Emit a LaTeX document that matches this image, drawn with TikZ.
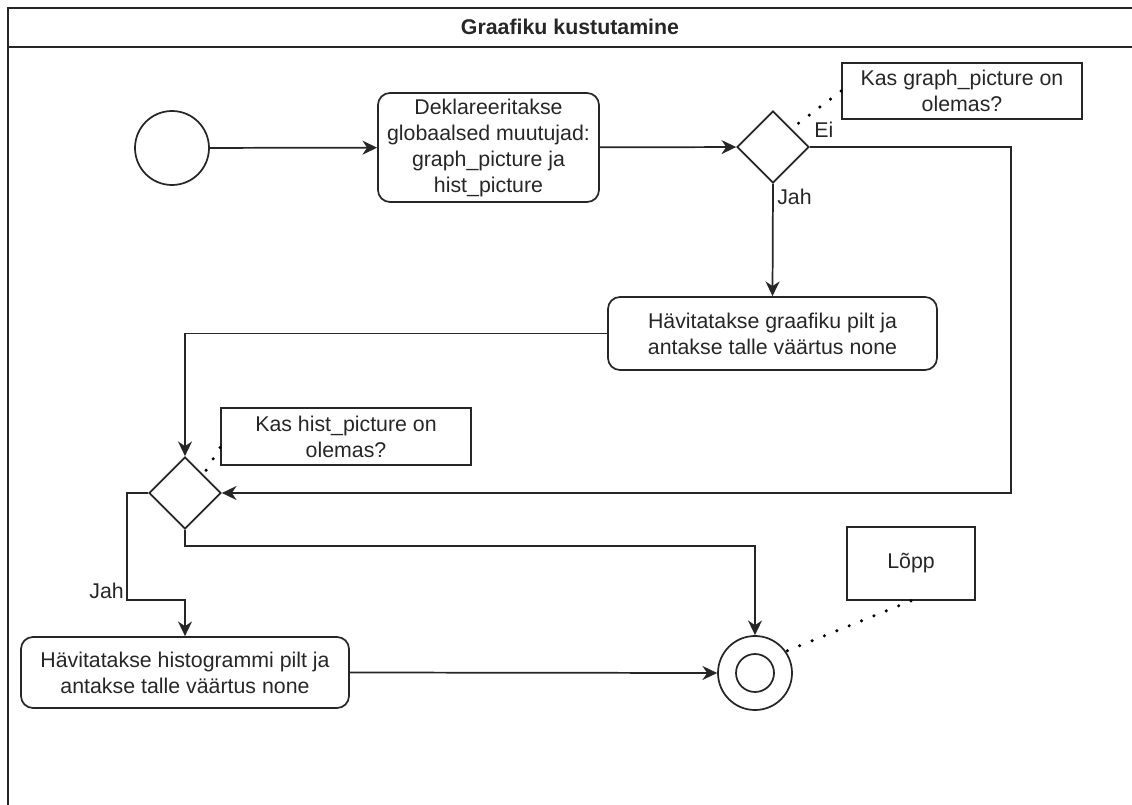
\documentclass[tikz,border=0pt]{standalone}
\usepackage{fontspec}
\setmainfont{Liberation Sans}
\usetikzlibrary{shapes.geometric,arrows.meta}

\begin{document}
\begin{tikzpicture}[x=0.75pt,y=-0.75pt,
  every node/.style={font=\fontsize{16}{19.5}\selectfont, text=black!85},
  line/.style={draw=black!85, line width=1.3pt},
  flow/.style={line, -{Stealth[length=11pt,width=10.5pt,inset=3.5pt]}},
  action/.style={line, rectangle, rounded corners=9pt, align=center, inner sep=2pt},
  note/.style={line, rectangle, align=center, inner sep=2pt},
  decision/.style={line, diamond, aspect=1, minimum width=54pt, minimum height=54pt, inner sep=0pt},
  initial/.style={line, circle, minimum size=55.5pt, inner sep=0pt},
  final/.style={line, circle, minimum size=55.5pt, inner sep=0pt},
  link/.style={draw=black, line width=2.6pt, line cap=round, dash pattern=on 0pt off 10pt},
  guard/.style={inner sep=0pt}
]
\useasboundingbox (0,0) rectangle (1132,805);

% swimlane frame with its title bar
\draw[line] (1132,8) -- (8,8) -- (8,805);
\draw[line] (8,47) -- (1132,47);
\node[font=\fontsize{16}{19.5}\selectfont\bfseries] (title) at (570,27) {Graafiku kustutamine};

% activity nodes
\node[initial] (start) at (172,148) {};
\node[action, minimum width=165.75pt, minimum height=81.75pt] (decl) at (488.5,147.5)
  {Deklareeritakse\\globaalsed muutujad:\\graph\_picture ja\\hist\_picture};
\node[decision] (d1) at (773,147) {};
\node[note, minimum width=180pt, minimum height=42pt] (note1) at (962,91)
  {Kas graph\_picture on\\olemas?};
\node[action, minimum width=246.75pt, minimum height=54.75pt] (graph) at (772.5,333.5)
  {Hävitatakse graafiku pilt ja\\antakse talle väärtus none};
\node[decision] (d2) at (185,493) {};
\node[note, minimum width=187.5pt, minimum height=42.75pt] (note2) at (346,436.5)
  {Kas hist\_picture on\\olemas?};
\node[action, minimum width=246pt, minimum height=53.25pt] (hist) at (185,672.5)
  {Hävitatakse histogrammi pilt ja\\antakse talle väärtus none};
\node[final] (end) at (755,673) {};
\node[line, circle, minimum size=28.5pt, inner sep=0pt] (endcore) at (end.center) {};
\node[note, minimum width=96pt, minimum height=54.75pt] (lopp) at (911,563.5) {Lõpp};

% bend points of the routed connectors
\coordinate (eiturn) at (1011,147);
\coordinate (leftturn) at (127,600);
\coordinate (bottomturn) at (470,546);

% control flow
\draw[flow] (start) -- (decl);
\draw[flow] (decl) -- (d1);
\draw[flow] (d1.east) -- (eiturn) |- (d2.east);
\draw[flow] (d1.south) -- (graph.north);
\draw[flow] (graph.west) -| (d2.north);
\draw[flow] (d2.west) -| (leftturn) -| (hist.north);
\draw[flow] (d2.south) |- (bottomturn) -| (end.north);
\draw[flow] (hist.east) -- (end.west);

% guards
\node[guard, anchor=west] (ei) at (814,130) {Ei};
\node[guard, anchor=west] (jah1) at (777,197) {Jah};
\node[guard, anchor=east] (jah2) at (124,591) {Jah};

% comment links
\draw[link] (note1.west) -- (d1.north east);
\draw[link] (note2.185) -- (d2.north east);
\draw[link] (lopp.south) -- (end.35);
\end{tikzpicture}
\end{document}
